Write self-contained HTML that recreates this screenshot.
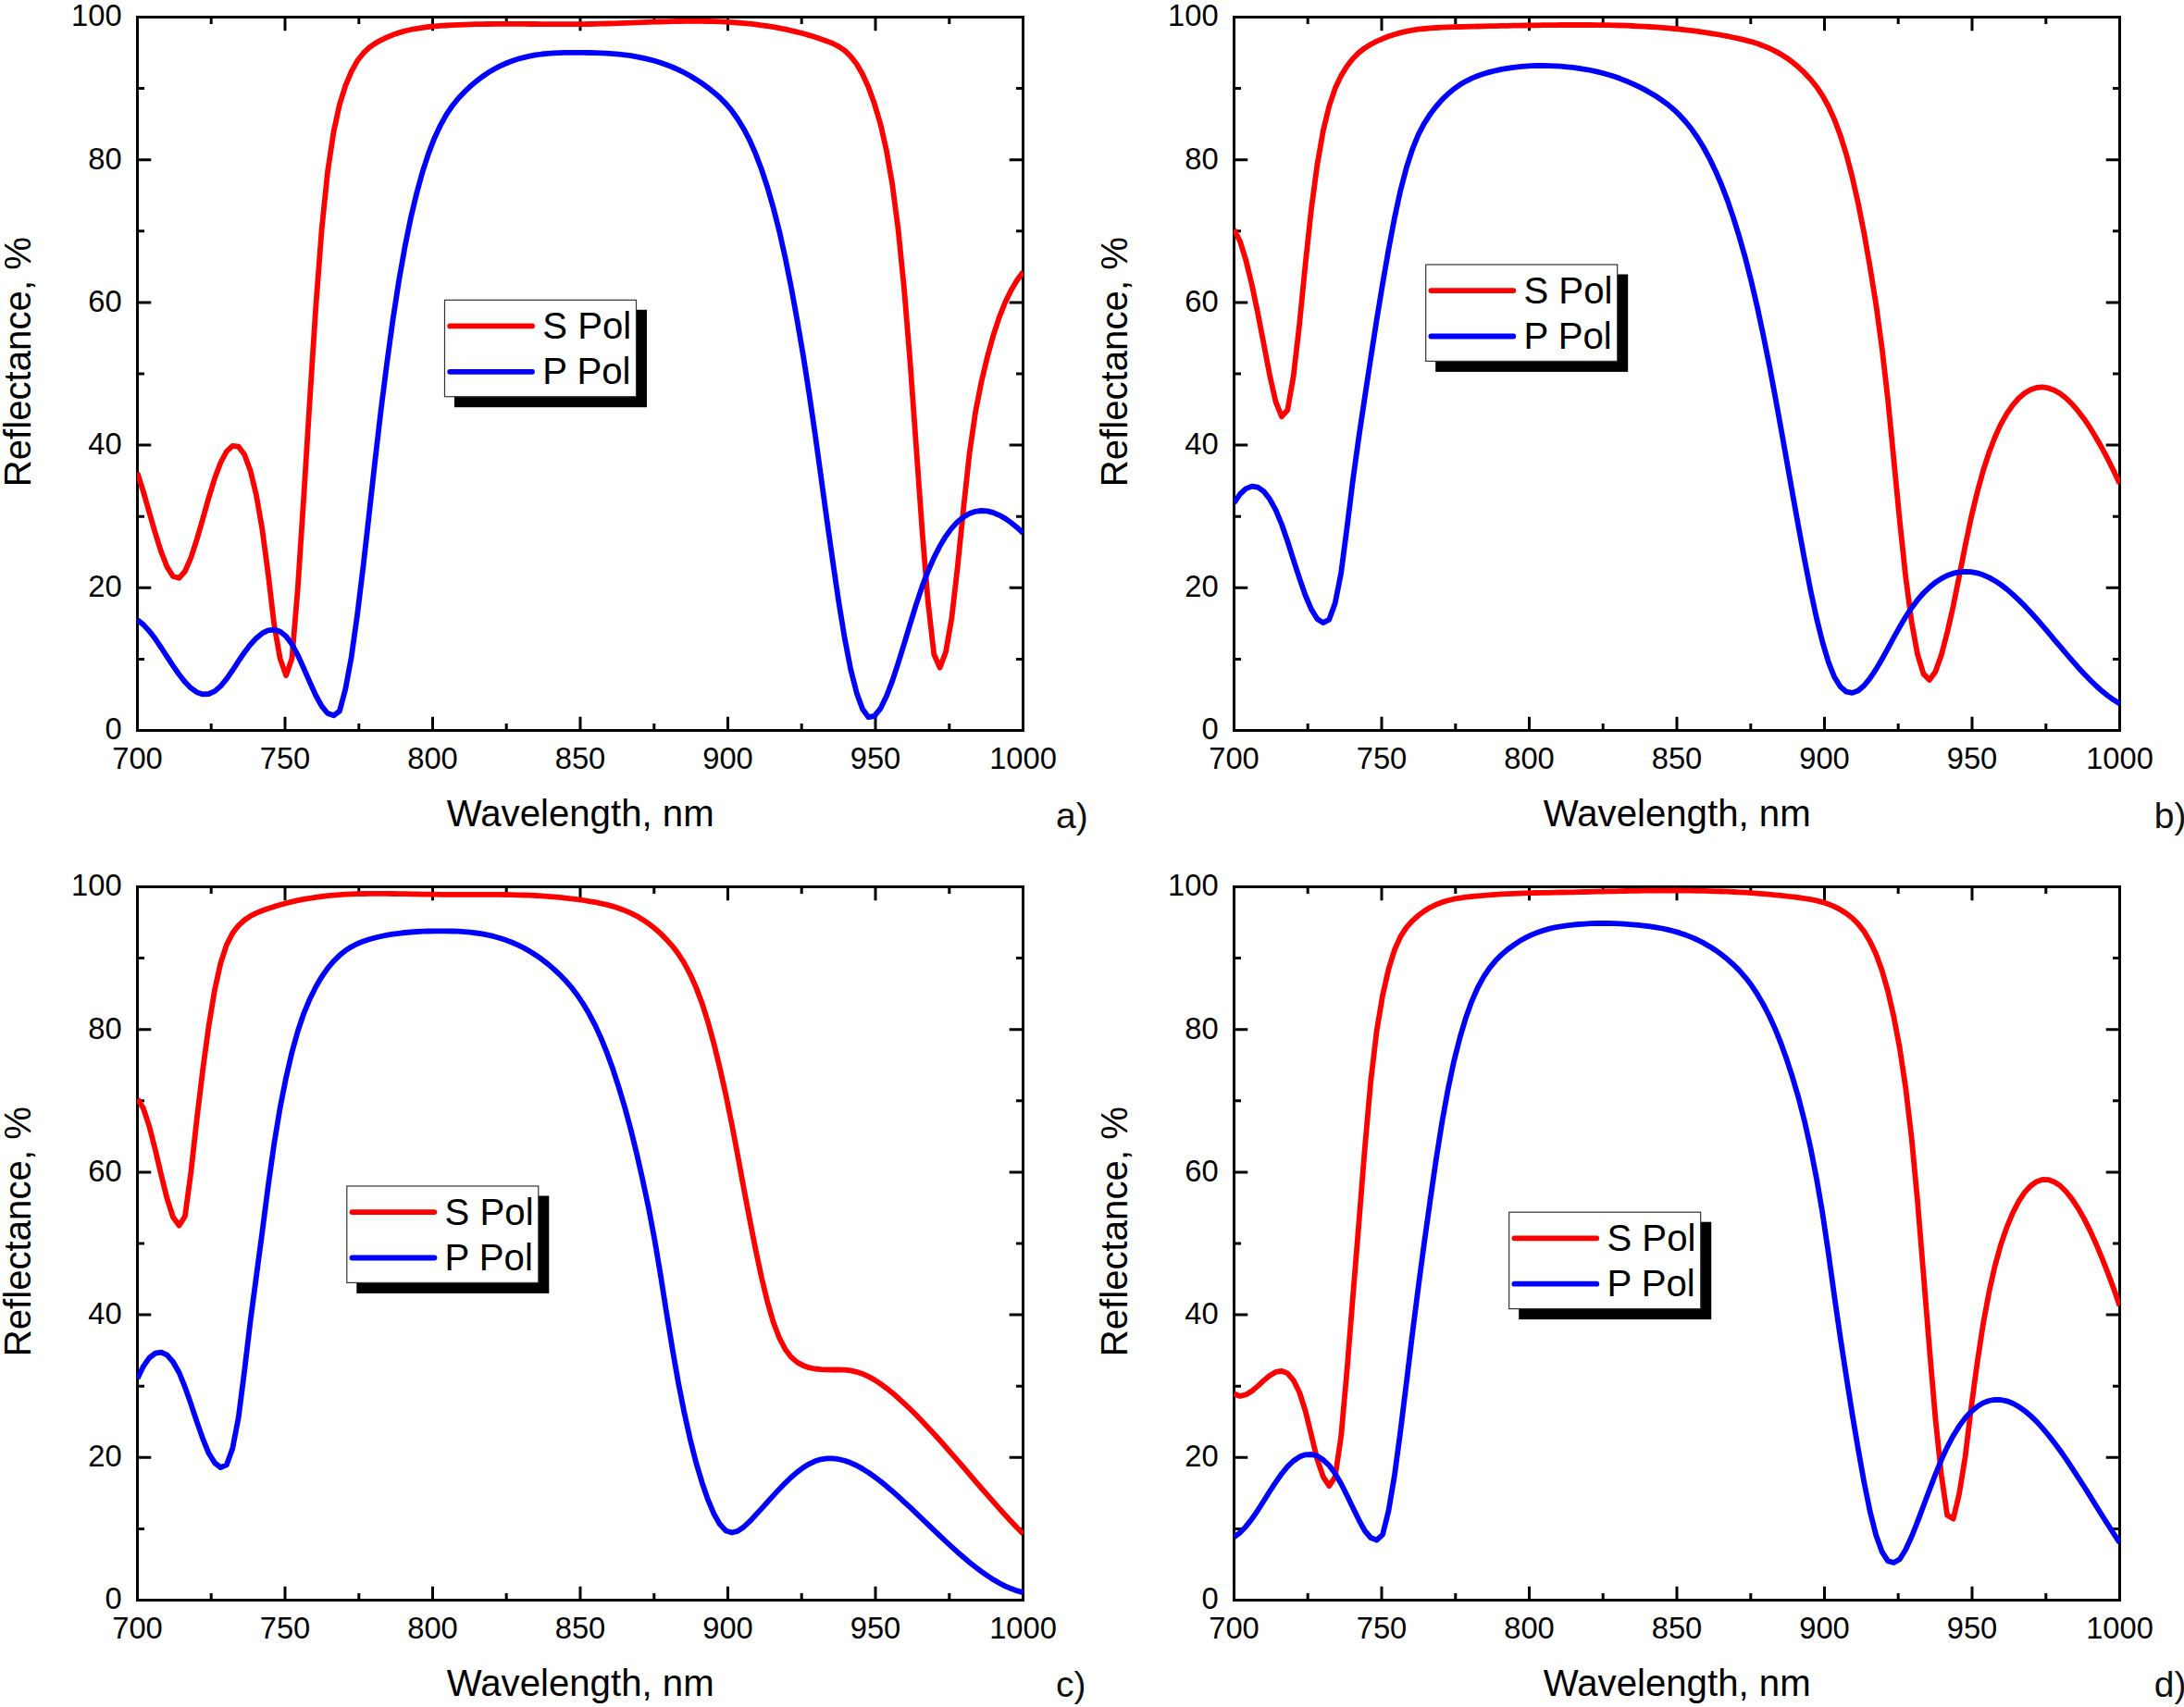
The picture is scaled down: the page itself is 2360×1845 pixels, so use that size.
<!DOCTYPE html>
<html lang="en"><head><meta charset="utf-8"><title>Reflectance vs wavelength for S and P polarization</title>
<style>html,body{margin:0;padding:0;background:#fff}body{width:2360px;height:1845px;overflow:hidden}svg{display:block}text{font-family:"Liberation Sans",sans-serif;fill:#000}.t{font-size:32.7px}.a{font-size:40.2px}.pl{font-size:39px;fill:#111}.ax{stroke:#000;stroke-width:3.0;fill:none;stroke-linecap:butt}.s{stroke:#f00}.p{stroke:#00f}.c{fill:none;stroke-width:5.8;stroke-linejoin:round;stroke-linecap:butt}.l{stroke-width:5.8;stroke-linecap:round;fill:none}</style></head><body>
<svg width="2360" height="1845" viewBox="0 0 2360 1845">
<rect width="2360" height="1845" fill="#fff"/>
<defs>
<clipPath id="cpa"><rect x="148" y="18" width="958" height="772"/></clipPath>
<clipPath id="cpb"><rect x="1333" y="18" width="958" height="772"/></clipPath>
<clipPath id="cpc"><rect x="148" y="958" width="958" height="772"/></clipPath>
<clipPath id="cpd"><rect x="1333" y="958" width="958" height="772"/></clipPath>
</defs>
<g id="panel-a">
<path class="ax" d="M228.2 789.5 v-7.5 M228.2 18.5 v7.5 M308 789.5 v-14.8 M308 18.5 v14.8 M387.8 789.5 v-7.5 M387.8 18.5 v7.5 M467.5 789.5 v-14.8 M467.5 18.5 v14.8 M547.2 789.5 v-7.5 M547.2 18.5 v7.5 M627 789.5 v-14.8 M627 18.5 v14.8 M706.8 789.5 v-7.5 M706.8 18.5 v7.5 M786.5 789.5 v-14.8 M786.5 18.5 v14.8 M866.2 789.5 v-7.5 M866.2 18.5 v7.5 M946 789.5 v-14.8 M946 18.5 v14.8 M1025.8 789.5 v-7.5 M1025.8 18.5 v7.5 M148.5 712.4 h7.5 M1105.5 712.4 h-7.5 M148.5 635.3 h14.8 M1105.5 635.3 h-14.8 M148.5 558.2 h7.5 M1105.5 558.2 h-7.5 M148.5 481.1 h14.8 M1105.5 481.1 h-14.8 M148.5 404 h7.5 M1105.5 404 h-7.5 M148.5 326.9 h14.8 M1105.5 326.9 h-14.8 M148.5 249.8 h7.5 M1105.5 249.8 h-7.5 M148.5 172.7 h14.8 M1105.5 172.7 h-14.8 M148.5 95.6 h7.5 M1105.5 95.6 h-7.5"/>
<rect class="ax" x="148.5" y="18.5" width="957" height="771"/>
<g clip-path="url(#cpa)">
<path class="c s" d="M148.5 511.1 L154.9 531.4 L161.3 553.8 L167.8 576.2 L174.2 596.6 L180.6 612.9 L187 623 L193.5 624.8 L199.9 617.5 L206.3 602.8 L212.7 583.1 L219.2 560.6 L225.6 537.8 L232 517 L238.4 500 L244.8 488 L251.3 481.9 L257.7 482.7 L264.1 491.2 L270.5 508.4 L277 535.2 L283.4 572.3 L289.8 620.5 L296.2 674.8 L302.6 711.6 L309.1 730.1 L315.5 711.6 L321.9 634.4 L328.3 536.1 L334.8 431.8 L341.2 332.7 L347.6 248.4 L354 186 L360.5 142.6 L366.9 113.1 L373.3 92.6 L379.7 77.3 L386.1 65.8 L392.6 57.4 L399 51.4 L405.4 46.9 L411.8 43.3 L418.3 40.2 L424.7 37.6 L431.1 35.4 L437.5 33.5 L443.9 32 L450.4 30.8 L456.8 29.8 L463.2 29 L469.6 28.4 L476.1 27.9 L482.5 27.5 L488.9 27.1 L495.3 26.8 L501.8 26.6 L508.2 26.4 L514.6 26.2 L521 26.1 L527.4 26 L533.9 25.9 L540.3 25.9 L546.7 25.9 L553.1 25.9 L559.6 25.9 L566 25.9 L572.4 26 L578.8 26 L585.3 26.1 L591.7 26.1 L598.1 26.1 L604.5 26.2 L610.9 26.2 L617.4 26.2 L623.8 26.1 L630.2 26.1 L636.6 26 L643.1 25.9 L649.5 25.7 L655.9 25.5 L662.3 25.3 L668.7 25.1 L675.2 24.9 L681.6 24.6 L688 24.4 L694.4 24.1 L700.9 23.9 L707.3 23.7 L713.7 23.5 L720.1 23.3 L726.6 23.1 L733 23 L739.4 22.9 L745.8 22.9 L752.2 22.8 L758.7 22.9 L765.1 23 L771.5 23.2 L777.9 23.4 L784.4 23.7 L790.8 24.1 L797.2 24.5 L803.6 25.1 L810.1 25.7 L816.5 26.4 L822.9 27.3 L829.3 28.2 L835.7 29.2 L842.2 30.4 L848.6 31.7 L855 33.1 L861.4 34.6 L867.9 36.3 L874.3 38.1 L880.7 40.1 L887.1 42.2 L893.5 44.4 L900 47 L906.4 50.3 L912.8 54.7 L919.2 60.9 L925.7 69.2 L932.1 80.2 L938.5 94.4 L944.9 112.1 L951.4 134 L957.8 162.1 L964.2 199.1 L970.6 248.1 L977 311.9 L983.5 391.6 L989.9 480.9 L996.3 570.9 L1002.7 649.7 L1009.2 707 L1015.6 721.7 L1022 704.7 L1028.4 668 L1034.8 612.1 L1041.3 548.1 L1047.7 489.1 L1054.1 445.3 L1060.5 412.6 L1067 385.4 L1073.4 362.3 L1079.8 342.9 L1086.2 326.8 L1092.7 313.5 L1099.1 302.7 L1105.5 293.9"/>
<path class="c p" d="M148.5 670.1 L154.9 675.1 L161.3 682.1 L167.8 690.6 L174.2 700 L180.6 709.9 L187 719.7 L193.5 729 L199.9 737.1 L206.3 743.7 L212.7 748.2 L219.2 750.4 L225.6 750 L232 747.1 L238.4 741.6 L244.8 733.8 L251.3 724.5 L257.7 714.7 L264.1 705.2 L270.5 696.7 L277 689.7 L283.4 684.4 L289.8 681.3 L296.2 680.6 L302.6 682.6 L309.1 687.8 L315.5 696.3 L321.9 708.3 L328.3 722.5 L334.8 737.4 L341.2 751.5 L347.6 763.2 L354 771 L360.5 773.3 L366.9 768.7 L373.3 744.8 L379.7 710.2 L386.1 664.5 L392.6 611.4 L399 554.6 L405.4 497.1 L411.8 442 L418.3 391 L424.7 344.5 L431.1 303.1 L437.5 266.9 L443.9 235.4 L450.4 208.3 L456.8 185.1 L463.2 165.4 L469.6 148.9 L476.1 135.1 L482.5 123.7 L488.9 114.2 L495.3 106.2 L501.8 99.4 L508.2 93.3 L514.6 87.9 L521 83 L527.4 78.6 L533.9 74.8 L540.3 71.4 L546.7 68.5 L553.1 66 L559.6 63.8 L566 62.1 L572.4 60.6 L578.8 59.4 L585.3 58.5 L591.7 57.9 L598.1 57.4 L604.5 57.1 L610.9 56.9 L617.4 56.8 L623.8 56.8 L630.2 56.9 L636.6 57 L643.1 57.1 L649.5 57.3 L655.9 57.7 L662.3 58.1 L668.7 58.7 L675.2 59.4 L681.6 60.2 L688 61.3 L694.4 62.6 L700.9 64.1 L707.3 65.8 L713.7 67.7 L720.1 70 L726.6 72.5 L733 75.4 L739.4 78.5 L745.8 82 L752.2 85.9 L758.7 90.2 L765.1 94.8 L771.5 99.9 L777.9 105.5 L784.4 112.1 L790.8 119.7 L797.2 128.7 L803.6 139.2 L810.1 151.7 L816.5 166.2 L822.9 183 L829.3 202.5 L835.7 224.8 L842.2 250.2 L848.6 278.9 L855 310.8 L861.4 345.9 L867.9 384 L874.3 425 L880.7 468.7 L887.1 514.8 L893.5 561.7 L900 607.7 L906.4 651.1 L912.8 690.1 L919.2 723.2 L925.7 748.9 L932.1 766.5 L938.5 775.2 L944.9 773.8 L951.4 765.8 L957.8 752.8 L964.2 736.1 L970.6 716.7 L977 695.8 L983.5 674.4 L989.9 653.6 L996.3 634.4 L1002.7 617.5 L1009.2 602.8 L1015.6 590.2 L1022 579.6 L1028.4 570.9 L1034.8 563.9 L1041.3 558.7 L1047.7 555 L1054.1 552.8 L1060.5 552 L1067 552.4 L1073.4 554.1 L1079.8 556.8 L1086.2 560.4 L1092.7 565 L1099.1 570.2 L1105.5 576.2"/>
</g>
<text class="t" x="148.5" y="831.3" text-anchor="middle">700</text>
<text class="t" x="308" y="831.3" text-anchor="middle">750</text>
<text class="t" x="467.5" y="831.3" text-anchor="middle">800</text>
<text class="t" x="627" y="831.3" text-anchor="middle">850</text>
<text class="t" x="786.5" y="831.3" text-anchor="middle">900</text>
<text class="t" x="946" y="831.3" text-anchor="middle">950</text>
<text class="t" x="1105.5" y="831.3" text-anchor="middle">1000</text>
<text class="t" x="131.6" y="799.3" text-anchor="end">0</text>
<text class="t" x="131.6" y="645.1" text-anchor="end">20</text>
<text class="t" x="131.6" y="490.9" text-anchor="end">40</text>
<text class="t" x="131.6" y="336.7" text-anchor="end">60</text>
<text class="t" x="131.6" y="182.5" text-anchor="end">80</text>
<text class="t" x="131.6" y="28.3" text-anchor="end">100</text>
<text class="a" x="627.2" y="893.2" text-anchor="middle">Wavelength, nm</text>
<text class="a" transform="translate(33.4 391.2) rotate(-90)" text-anchor="middle">Reflectance, %</text>
<rect x="491" y="334.8" width="208" height="105.4" fill="#000"/>
<rect x="480.5" y="324.3" width="207" height="104.4" fill="#fff" stroke="#333" stroke-width="1.2"/>
<path class="l s" d="M486.2 352.4 h88.9"/>
<path class="l p" d="M486.2 401.8 h88.9"/>
<text class="a" x="586.2" y="365.9">S Pol</text>
<text class="a" x="586.2" y="415.3">P Pol</text>
<text class="pl" x="1141" y="895.4">a)</text>
</g>
<g id="panel-b">
<path class="ax" d="M1413.2 789.5 v-7.5 M1413.2 18.5 v7.5 M1493 789.5 v-14.8 M1493 18.5 v14.8 M1572.8 789.5 v-7.5 M1572.8 18.5 v7.5 M1652.5 789.5 v-14.8 M1652.5 18.5 v14.8 M1732.2 789.5 v-7.5 M1732.2 18.5 v7.5 M1812 789.5 v-14.8 M1812 18.5 v14.8 M1891.8 789.5 v-7.5 M1891.8 18.5 v7.5 M1971.5 789.5 v-14.8 M1971.5 18.5 v14.8 M2051.2 789.5 v-7.5 M2051.2 18.5 v7.5 M2131 789.5 v-14.8 M2131 18.5 v14.8 M2210.8 789.5 v-7.5 M2210.8 18.5 v7.5 M1333.5 712.4 h7.5 M2290.5 712.4 h-7.5 M1333.5 635.3 h14.8 M2290.5 635.3 h-14.8 M1333.5 558.2 h7.5 M2290.5 558.2 h-7.5 M1333.5 481.1 h14.8 M2290.5 481.1 h-14.8 M1333.5 404 h7.5 M2290.5 404 h-7.5 M1333.5 326.9 h14.8 M2290.5 326.9 h-14.8 M1333.5 249.8 h7.5 M2290.5 249.8 h-7.5 M1333.5 172.7 h14.8 M2290.5 172.7 h-14.8 M1333.5 95.6 h7.5 M2290.5 95.6 h-7.5"/>
<rect class="ax" x="1333.5" y="18.5" width="957" height="771"/>
<g clip-path="url(#cpb)">
<path class="c s" d="M1333.5 248 L1339.9 260.7 L1346.3 281.2 L1352.8 307.9 L1359.2 338.7 L1365.6 371.7 L1372 405.3 L1378.5 434.1 L1384.9 450.3 L1391.3 443.3 L1397.7 406.5 L1404.2 350.1 L1410.6 285.3 L1417 225.8 L1423.4 178 L1429.8 141.3 L1436.3 114.6 L1442.7 95.6 L1449.1 82 L1455.5 71.5 L1462 63.2 L1468.4 56.9 L1474.8 51.9 L1481.2 48 L1487.6 44.7 L1494.1 41.8 L1500.5 39.3 L1506.9 37.2 L1513.3 35.4 L1519.8 33.9 L1526.2 32.7 L1532.6 31.7 L1539 31 L1545.5 30.4 L1551.9 30 L1558.3 29.7 L1564.7 29.4 L1571.1 29.2 L1577.6 29 L1584 28.8 L1590.4 28.7 L1596.8 28.5 L1603.3 28.4 L1609.7 28.2 L1616.1 28.1 L1622.5 27.9 L1628.9 27.8 L1635.4 27.7 L1641.8 27.6 L1648.2 27.5 L1654.6 27.4 L1661.1 27.3 L1667.5 27.2 L1673.9 27.1 L1680.3 27.1 L1686.8 27 L1693.2 27 L1699.6 27 L1706 27 L1712.4 27 L1718.9 27 L1725.3 27.1 L1731.7 27.1 L1738.1 27.2 L1744.6 27.4 L1751 27.5 L1757.4 27.7 L1763.8 28 L1770.3 28.3 L1776.7 28.6 L1783.1 29 L1789.5 29.4 L1795.9 29.9 L1802.4 30.4 L1808.8 31 L1815.2 31.6 L1821.6 32.3 L1828.1 33.1 L1834.5 33.9 L1840.9 34.8 L1847.3 35.8 L1853.7 36.9 L1860.2 38 L1866.6 39.2 L1873 40.5 L1879.4 41.9 L1885.9 43.4 L1892.3 45.1 L1898.7 47.1 L1905.1 49.4 L1911.6 52 L1918 55.1 L1924.4 58.6 L1930.8 62.7 L1937.2 67.4 L1943.7 72.8 L1950.1 78.9 L1956.5 85.7 L1962.9 93.7 L1969.4 103.3 L1975.8 115 L1982.2 129.1 L1988.6 146.2 L1995.1 166.8 L2001.5 191.3 L2007.9 219.7 L2014.3 252.1 L2020.7 288.5 L2027.2 329 L2033.6 375.8 L2040 431.7 L2046.4 496.8 L2052.9 563.9 L2059.3 624.2 L2065.7 672.4 L2072.1 707.4 L2078.5 728.4 L2085 734.9 L2091.4 726 L2097.8 708.1 L2104.2 683.5 L2110.7 654.8 L2117.1 622.9 L2123.5 590.4 L2129.9 559.8 L2136.4 532.8 L2142.8 509.5 L2149.2 489.5 L2155.6 472.7 L2162 458.6 L2168.5 447.1 L2174.9 437.8 L2181.3 430.5 L2187.7 425 L2194.2 421.2 L2200.6 419 L2207 418.4 L2213.4 419.4 L2219.8 421.7 L2226.3 425.5 L2232.7 430.5 L2239.1 436.8 L2245.5 444.2 L2252 452.7 L2258.4 462.2 L2264.8 472.7 L2271.2 484 L2277.7 496.2 L2284.1 509.1 L2290.5 522.6"/>
<path class="c p" d="M1333.5 543.7 L1339.9 534.2 L1346.3 528.1 L1352.8 525.6 L1359.2 526.6 L1365.6 531.1 L1372 539.3 L1378.5 551.1 L1384.9 566.5 L1391.3 585 L1397.7 605.1 L1404.2 625.1 L1410.6 643.5 L1417 658.6 L1423.4 669 L1429.8 673.1 L1436.3 669.6 L1442.7 652 L1449.1 619.6 L1455.5 570.7 L1462 518.3 L1468.4 472 L1474.8 429.2 L1481.2 387.1 L1487.6 345.9 L1494.1 306.4 L1500.5 269.4 L1506.9 235.7 L1513.3 206 L1519.8 181.2 L1526.2 161.3 L1532.6 145.7 L1539 133.3 L1545.5 123.3 L1551.9 115 L1558.3 107.7 L1564.7 101.5 L1571.1 96.1 L1577.6 91.6 L1584 87.8 L1590.4 84.6 L1596.8 82 L1603.3 79.8 L1609.7 77.9 L1616.1 76.3 L1622.5 74.9 L1628.9 73.8 L1635.4 72.8 L1641.8 72.1 L1648.2 71.6 L1654.6 71.2 L1661.1 71 L1667.5 71 L1673.9 71.1 L1680.3 71.4 L1686.8 71.7 L1693.2 72.3 L1699.6 72.9 L1706 73.8 L1712.4 74.8 L1718.9 76 L1725.3 77.4 L1731.7 79 L1738.1 80.8 L1744.6 82.8 L1751 85.1 L1757.4 87.6 L1763.8 90.3 L1770.3 93.4 L1776.7 96.6 L1783.1 100.2 L1789.5 104 L1795.9 108.3 L1802.4 113.1 L1808.8 118.5 L1815.2 124.7 L1821.6 131.7 L1828.1 139.8 L1834.5 149 L1840.9 159.5 L1847.3 171.3 L1853.7 184.7 L1860.2 199.7 L1866.6 216.4 L1873 235.1 L1879.4 255.7 L1885.9 278.5 L1892.3 303.6 L1898.7 331 L1905.1 361 L1911.6 393.2 L1918 427.3 L1924.4 462.6 L1930.8 498.6 L1937.2 534.8 L1943.7 570.7 L1950.1 605.5 L1956.5 638.2 L1962.9 668 L1969.4 694.1 L1975.8 715.6 L1982.2 731.7 L1988.6 742.1 L1995.1 747.7 L2001.5 748.9 L2007.9 746.5 L2014.3 741 L2020.7 733.1 L2027.2 723.4 L2033.6 712.5 L2040 700.9 L2046.4 689 L2052.9 677.4 L2059.3 666.5 L2065.7 656.9 L2072.1 648.4 L2078.5 641 L2085 634.8 L2091.4 629.5 L2097.8 625.3 L2104.2 622 L2110.7 619.7 L2117.1 618.3 L2123.5 617.8 L2129.9 618.1 L2136.4 619.3 L2142.8 621.3 L2149.2 624.1 L2155.6 627.7 L2162 631.9 L2168.5 636.9 L2174.9 642.4 L2181.3 648.4 L2187.7 654.8 L2194.2 661.7 L2200.6 668.8 L2207 676.2 L2213.4 683.7 L2219.8 691.3 L2226.3 698.9 L2232.7 706.5 L2239.1 713.9 L2245.5 721.2 L2252 728.2 L2258.4 734.8 L2264.8 741 L2271.2 746.8 L2277.7 752 L2284.1 756.6 L2290.5 760.5"/>
</g>
<text class="t" x="1333.5" y="831.3" text-anchor="middle">700</text>
<text class="t" x="1493" y="831.3" text-anchor="middle">750</text>
<text class="t" x="1652.5" y="831.3" text-anchor="middle">800</text>
<text class="t" x="1812" y="831.3" text-anchor="middle">850</text>
<text class="t" x="1971.5" y="831.3" text-anchor="middle">900</text>
<text class="t" x="2131" y="831.3" text-anchor="middle">950</text>
<text class="t" x="2290.5" y="831.3" text-anchor="middle">1000</text>
<text class="t" x="1316.6" y="799.3" text-anchor="end">0</text>
<text class="t" x="1316.6" y="645.1" text-anchor="end">20</text>
<text class="t" x="1316.6" y="490.9" text-anchor="end">40</text>
<text class="t" x="1316.6" y="336.7" text-anchor="end">60</text>
<text class="t" x="1316.6" y="182.5" text-anchor="end">80</text>
<text class="t" x="1316.6" y="28.3" text-anchor="end">100</text>
<text class="a" x="1812.2" y="893.2" text-anchor="middle">Wavelength, nm</text>
<text class="a" transform="translate(1218.4 391.2) rotate(-90)" text-anchor="middle">Reflectance, %</text>
<rect x="1551.2" y="296.5" width="208" height="105.4" fill="#000"/>
<rect x="1540.7" y="286" width="207" height="104.4" fill="#fff" stroke="#333" stroke-width="1.2"/>
<path class="l s" d="M1546.4 314.1 h88.9"/>
<path class="l p" d="M1546.4 363.5 h88.9"/>
<text class="a" x="1646.4" y="327.6">S Pol</text>
<text class="a" x="1646.4" y="377">P Pol</text>
<text class="pl" x="2327.7" y="895.3">b)</text>
</g>
<g id="panel-c">
<path class="ax" d="M228.2 1729.5 v-7.5 M228.2 958.5 v7.5 M308 1729.5 v-14.8 M308 958.5 v14.8 M387.8 1729.5 v-7.5 M387.8 958.5 v7.5 M467.5 1729.5 v-14.8 M467.5 958.5 v14.8 M547.2 1729.5 v-7.5 M547.2 958.5 v7.5 M627 1729.5 v-14.8 M627 958.5 v14.8 M706.8 1729.5 v-7.5 M706.8 958.5 v7.5 M786.5 1729.5 v-14.8 M786.5 958.5 v14.8 M866.2 1729.5 v-7.5 M866.2 958.5 v7.5 M946 1729.5 v-14.8 M946 958.5 v14.8 M1025.8 1729.5 v-7.5 M1025.8 958.5 v7.5 M148.5 1652.4 h7.5 M1105.5 1652.4 h-7.5 M148.5 1575.3 h14.8 M1105.5 1575.3 h-14.8 M148.5 1498.2 h7.5 M1105.5 1498.2 h-7.5 M148.5 1421.1 h14.8 M1105.5 1421.1 h-14.8 M148.5 1344 h7.5 M1105.5 1344 h-7.5 M148.5 1266.9 h14.8 M1105.5 1266.9 h-14.8 M148.5 1189.8 h7.5 M1105.5 1189.8 h-7.5 M148.5 1112.7 h14.8 M1105.5 1112.7 h-14.8 M148.5 1035.6 h7.5 M1105.5 1035.6 h-7.5"/>
<rect class="ax" x="148.5" y="958.5" width="957" height="771"/>
<g clip-path="url(#cpc)">
<path class="c s" d="M148.5 1187.7 L154.9 1197.9 L161.3 1217.4 L167.8 1242.7 L174.2 1270 L180.6 1295.7 L187 1315.5 L193.5 1324.7 L199.9 1314.7 L206.3 1267.4 L212.7 1209.6 L219.2 1155.9 L225.6 1108.7 L232 1069.9 L238.4 1041 L244.8 1021.4 L251.3 1008.6 L257.7 1000.4 L264.1 994.5 L270.5 990.1 L277 986.9 L283.4 984.3 L289.8 982 L296.2 979.9 L302.6 978 L309.1 976.2 L315.5 974.6 L321.9 973.2 L328.3 971.9 L334.8 970.8 L341.2 969.8 L347.6 969 L354 968.2 L360.5 967.6 L366.9 967.1 L373.3 966.7 L379.7 966.4 L386.1 966.1 L392.6 966 L399 965.9 L405.4 965.8 L411.8 965.8 L418.3 965.9 L424.7 966 L431.1 966.1 L437.5 966.2 L443.9 966.3 L450.4 966.4 L456.8 966.6 L463.2 966.7 L469.6 966.7 L476.1 966.8 L482.5 966.8 L488.9 966.8 L495.3 966.8 L501.8 966.8 L508.2 966.8 L514.6 966.8 L521 966.8 L527.4 966.8 L533.9 966.9 L540.3 966.9 L546.7 967 L553.1 967.1 L559.6 967.3 L566 967.5 L572.4 967.7 L578.8 968 L585.3 968.4 L591.7 968.8 L598.1 969.3 L604.5 969.9 L610.9 970.6 L617.4 971.3 L623.8 972.1 L630.2 973 L636.6 974.1 L643.1 975.2 L649.5 976.5 L655.9 977.9 L662.3 979.6 L668.7 981.7 L675.2 984.1 L681.6 986.9 L688 990.1 L694.4 993.9 L700.9 998.3 L707.3 1003.3 L713.7 1008.9 L720.1 1015.4 L726.6 1022.6 L733 1031 L739.4 1041 L745.8 1053 L752.2 1067.4 L758.7 1084.6 L765.1 1104.9 L771.5 1128.3 L777.9 1154.5 L784.4 1183.6 L790.8 1215.3 L797.2 1249 L803.6 1283.7 L810.1 1317.9 L816.5 1350.5 L822.9 1380.6 L829.3 1407.1 L835.7 1429.2 L842.2 1446.2 L848.6 1458.5 L855 1466.9 L861.4 1472.4 L867.9 1475.9 L874.3 1478.2 L880.7 1479.5 L887.1 1480.2 L893.5 1480.4 L900 1480.5 L906.4 1480.5 L912.8 1480.7 L919.2 1481.4 L925.7 1482.8 L932.1 1484.9 L938.5 1487.8 L944.9 1491.4 L951.4 1495.6 L957.8 1500.3 L964.2 1505.4 L970.6 1511 L977 1516.8 L983.5 1523 L989.9 1529.3 L996.3 1535.9 L1002.7 1542.7 L1009.2 1549.7 L1015.6 1556.8 L1022 1564 L1028.4 1571.3 L1034.8 1578.7 L1041.3 1586.1 L1047.7 1593.6 L1054.1 1601.1 L1060.5 1608.5 L1067 1615.9 L1073.4 1623.2 L1079.8 1630.4 L1086.2 1637.5 L1092.7 1644.5 L1099.1 1651.2 L1105.5 1657.8"/>
<path class="c p" d="M148.5 1489.9 L154.9 1476.8 L161.3 1467.6 L167.8 1462.6 L174.2 1461.6 L180.6 1464.7 L187 1472 L193.5 1483.5 L199.9 1499.1 L206.3 1517.4 L212.7 1536.7 L219.2 1555.1 L225.6 1570.8 L232 1581.1 L238.4 1586.1 L244.8 1583.4 L251.3 1565.5 L257.7 1532.3 L264.1 1482.1 L270.5 1428.3 L277 1379.5 L283.4 1331.3 L289.8 1281.6 L296.2 1236.4 L302.6 1197.6 L309.1 1164.8 L315.5 1137.2 L321.9 1114.2 L328.3 1095.3 L334.8 1079.7 L341.2 1066.7 L347.6 1055.8 L354 1046.6 L360.5 1038.9 L366.9 1032.6 L373.3 1027.4 L379.7 1023.3 L386.1 1020 L392.6 1017.4 L399 1015.3 L405.4 1013.5 L411.8 1012 L418.3 1010.7 L424.7 1009.7 L431.1 1008.8 L437.5 1008 L443.9 1007.5 L450.4 1007 L456.8 1006.7 L463.2 1006.5 L469.6 1006.4 L476.1 1006.3 L482.5 1006.3 L488.9 1006.5 L495.3 1006.7 L501.8 1007.1 L508.2 1007.7 L514.6 1008.5 L521 1009.4 L527.4 1010.7 L533.9 1012.2 L540.3 1014 L546.7 1016.1 L553.1 1018.5 L559.6 1021.3 L566 1024.5 L572.4 1028.1 L578.8 1032.2 L585.3 1036.7 L591.7 1041.6 L598.1 1047.1 L604.5 1053.1 L610.9 1059.7 L617.4 1067.1 L623.8 1075.5 L630.2 1085 L636.6 1095.8 L643.1 1108.1 L649.5 1122.1 L655.9 1137.9 L662.3 1155.6 L668.7 1175.3 L675.2 1197 L681.6 1220.8 L688 1246.8 L694.4 1275 L700.9 1305.7 L707.3 1339.5 L713.7 1377.4 L720.1 1418.1 L726.6 1458 L733 1494.4 L739.4 1526.9 L745.8 1555.7 L752.2 1580.9 L758.7 1602.7 L765.1 1621.2 L771.5 1636.3 L777.9 1647.6 L784.4 1654.4 L790.8 1656.5 L797.2 1654.9 L803.6 1650.5 L810.1 1644.4 L816.5 1637.6 L822.9 1630.6 L829.3 1623.5 L835.7 1616.4 L842.2 1609.4 L848.6 1602.8 L855 1596.7 L861.4 1591.1 L867.9 1586.2 L874.3 1582.3 L880.7 1579.3 L887.1 1577.3 L893.5 1576.4 L900 1576.4 L906.4 1577.2 L912.8 1578.8 L919.2 1581.1 L925.7 1584 L932.1 1587.6 L938.5 1591.6 L944.9 1596.2 L951.4 1601 L957.8 1606.3 L964.2 1611.7 L970.6 1617.4 L977 1623.3 L983.5 1629.2 L989.9 1635.3 L996.3 1641.5 L1002.7 1647.6 L1009.2 1653.8 L1015.6 1659.9 L1022 1666 L1028.4 1671.9 L1034.8 1677.7 L1041.3 1683.3 L1047.7 1688.7 L1054.1 1693.8 L1060.5 1698.6 L1067 1703.1 L1073.4 1707.3 L1079.8 1711 L1086.2 1714.3 L1092.7 1717.1 L1099.1 1719.4 L1105.5 1721.2"/>
</g>
<text class="t" x="148.5" y="1771.3" text-anchor="middle">700</text>
<text class="t" x="308" y="1771.3" text-anchor="middle">750</text>
<text class="t" x="467.5" y="1771.3" text-anchor="middle">800</text>
<text class="t" x="627" y="1771.3" text-anchor="middle">850</text>
<text class="t" x="786.5" y="1771.3" text-anchor="middle">900</text>
<text class="t" x="946" y="1771.3" text-anchor="middle">950</text>
<text class="t" x="1105.5" y="1771.3" text-anchor="middle">1000</text>
<text class="t" x="131.6" y="1739.3" text-anchor="end">0</text>
<text class="t" x="131.6" y="1585.1" text-anchor="end">20</text>
<text class="t" x="131.6" y="1430.9" text-anchor="end">40</text>
<text class="t" x="131.6" y="1276.7" text-anchor="end">60</text>
<text class="t" x="131.6" y="1122.5" text-anchor="end">80</text>
<text class="t" x="131.6" y="968.3" text-anchor="end">100</text>
<text class="a" x="627.2" y="1833.2" text-anchor="middle">Wavelength, nm</text>
<text class="a" transform="translate(33.4 1331.2) rotate(-90)" text-anchor="middle">Reflectance, %</text>
<rect x="385.3" y="1292.5" width="208" height="105.4" fill="#000"/>
<rect x="374.8" y="1282" width="207" height="104.4" fill="#fff" stroke="#333" stroke-width="1.2"/>
<path class="l s" d="M380.5 1310.1 h88.9"/>
<path class="l p" d="M380.5 1359.5 h88.9"/>
<text class="a" x="480.5" y="1323.6">S Pol</text>
<text class="a" x="480.5" y="1373">P Pol</text>
<text class="pl" x="1141" y="1834.1">c)</text>
</g>
<g id="panel-d">
<path class="ax" d="M1413.2 1729.5 v-7.5 M1413.2 958.5 v7.5 M1493 1729.5 v-14.8 M1493 958.5 v14.8 M1572.8 1729.5 v-7.5 M1572.8 958.5 v7.5 M1652.5 1729.5 v-14.8 M1652.5 958.5 v14.8 M1732.2 1729.5 v-7.5 M1732.2 958.5 v7.5 M1812 1729.5 v-14.8 M1812 958.5 v14.8 M1891.8 1729.5 v-7.5 M1891.8 958.5 v7.5 M1971.5 1729.5 v-14.8 M1971.5 958.5 v14.8 M2051.2 1729.5 v-7.5 M2051.2 958.5 v7.5 M2131 1729.5 v-14.8 M2131 958.5 v14.8 M2210.8 1729.5 v-7.5 M2210.8 958.5 v7.5 M1333.5 1652.4 h7.5 M2290.5 1652.4 h-7.5 M1333.5 1575.3 h14.8 M2290.5 1575.3 h-14.8 M1333.5 1498.2 h7.5 M2290.5 1498.2 h-7.5 M1333.5 1421.1 h14.8 M2290.5 1421.1 h-14.8 M1333.5 1344 h7.5 M2290.5 1344 h-7.5 M1333.5 1266.9 h14.8 M2290.5 1266.9 h-14.8 M1333.5 1189.8 h7.5 M2290.5 1189.8 h-7.5 M1333.5 1112.7 h14.8 M2290.5 1112.7 h-14.8 M1333.5 1035.6 h7.5 M2290.5 1035.6 h-7.5"/>
<rect class="ax" x="1333.5" y="958.5" width="957" height="771"/>
<g clip-path="url(#cpd)">
<path class="c s" d="M1333.5 1506.6 L1339.9 1508.9 L1346.3 1507.5 L1352.8 1503.5 L1359.2 1498.1 L1365.6 1492.1 L1372 1486.7 L1378.5 1482.9 L1384.9 1481.8 L1391.3 1484.4 L1397.7 1491.8 L1404.2 1505 L1410.6 1525 L1417 1551 L1423.4 1577.4 L1429.8 1596.1 L1436.3 1606.1 L1442.7 1596.1 L1449.1 1552.9 L1455.5 1481.8 L1462 1400.4 L1468.4 1321.7 L1474.8 1241.3 L1481.2 1168.8 L1487.6 1114.6 L1494.1 1075.6 L1500.5 1047.3 L1506.9 1026.8 L1513.3 1012.4 L1519.8 1002.4 L1526.2 995.3 L1532.6 989.5 L1539 984.7 L1545.5 980.8 L1551.9 977.7 L1558.3 975.1 L1564.7 973.2 L1571.1 971.7 L1577.6 970.6 L1584 969.7 L1590.4 969 L1596.8 968.3 L1603.3 967.8 L1609.7 967.3 L1616.1 966.8 L1622.5 966.4 L1628.9 966.1 L1635.4 965.8 L1641.8 965.6 L1648.2 965.4 L1654.6 965.2 L1661.1 965 L1667.5 964.9 L1673.9 964.8 L1680.3 964.6 L1686.8 964.5 L1693.2 964.4 L1699.6 964.3 L1706 964.1 L1712.4 964 L1718.9 963.9 L1725.3 963.7 L1731.7 963.6 L1738.1 963.4 L1744.6 963.3 L1751 963.2 L1757.4 963 L1763.8 962.9 L1770.3 962.8 L1776.7 962.7 L1783.1 962.7 L1789.5 962.6 L1795.9 962.6 L1802.4 962.6 L1808.8 962.5 L1815.2 962.6 L1821.6 962.6 L1828.1 962.7 L1834.5 962.8 L1840.9 962.9 L1847.3 963.1 L1853.7 963.3 L1860.2 963.5 L1866.6 963.7 L1873 964 L1879.4 964.4 L1885.9 964.7 L1892.3 965.1 L1898.7 965.6 L1905.1 966.1 L1911.6 966.7 L1918 967.3 L1924.4 967.9 L1930.8 968.6 L1937.2 969.4 L1943.7 970.2 L1950.1 971.1 L1956.5 972.1 L1962.9 973.4 L1969.4 975.1 L1975.8 977.2 L1982.2 979.9 L1988.6 983.2 L1995.1 987.3 L2001.5 992.3 L2007.9 998.6 L2014.3 1006.8 L2020.7 1017.5 L2027.2 1031.3 L2033.6 1048.8 L2040 1071.1 L2046.4 1099 L2052.9 1133.4 L2059.3 1176.3 L2065.7 1230.5 L2072.1 1298.8 L2078.5 1377.4 L2085 1458.2 L2091.4 1533.2 L2097.8 1594.3 L2104.2 1637.8 L2110.7 1641.6 L2117.1 1614.6 L2123.5 1575.1 L2129.9 1522.6 L2136.4 1474.1 L2142.8 1432.1 L2149.2 1397.2 L2155.6 1368.7 L2162 1345.4 L2168.5 1326.5 L2174.9 1311.1 L2181.3 1298.6 L2187.7 1288.9 L2194.2 1281.8 L2200.6 1277.2 L2207 1275 L2213.4 1275.1 L2219.8 1277.4 L2226.3 1281.7 L2232.7 1288 L2239.1 1296.1 L2245.5 1305.8 L2252 1317.1 L2258.4 1329.9 L2264.8 1344 L2271.2 1359.3 L2277.7 1375.7 L2284.1 1393.1 L2290.5 1411.3"/>
<path class="c p" d="M1333.5 1661.3 L1339.9 1656.6 L1346.3 1649.9 L1352.8 1641.7 L1359.2 1632.3 L1365.6 1622.2 L1372 1612 L1378.5 1602.1 L1384.9 1593 L1391.3 1585.1 L1397.7 1579 L1404.2 1574.6 L1410.6 1572.3 L1417 1572 L1423.4 1573.8 L1429.8 1577.8 L1436.3 1584 L1442.7 1592.6 L1449.1 1603.5 L1455.5 1616.2 L1462 1629.7 L1468.4 1642.8 L1474.8 1654.5 L1481.2 1662 L1487.6 1664.7 L1494.1 1658.6 L1500.5 1632.7 L1506.9 1594.8 L1513.3 1547 L1519.8 1494.3 L1526.2 1441.6 L1532.6 1391.5 L1539 1343.4 L1545.5 1297 L1551.9 1252.9 L1558.3 1212.6 L1564.7 1177.3 L1571.1 1147 L1577.6 1121.4 L1584 1099.9 L1590.4 1082.1 L1596.8 1067.5 L1603.3 1055.6 L1609.7 1046.1 L1616.1 1038.3 L1622.5 1031.9 L1628.9 1026.4 L1635.4 1021.6 L1641.8 1017.3 L1648.2 1013.7 L1654.6 1010.6 L1661.1 1007.9 L1667.5 1005.7 L1673.9 1003.9 L1680.3 1002.4 L1686.8 1001.3 L1693.2 1000.3 L1699.6 999.6 L1706 999 L1712.4 998.6 L1718.9 998.2 L1725.3 998 L1731.7 998 L1738.1 998 L1744.6 998.2 L1751 998.4 L1757.4 998.8 L1763.8 999.3 L1770.3 999.9 L1776.7 1000.6 L1783.1 1001.4 L1789.5 1002.4 L1795.9 1003.5 L1802.4 1004.9 L1808.8 1006.5 L1815.2 1008.4 L1821.6 1010.6 L1828.1 1013.1 L1834.5 1016 L1840.9 1019.2 L1847.3 1022.9 L1853.7 1027 L1860.2 1031.7 L1866.6 1036.8 L1873 1042.5 L1879.4 1048.9 L1885.9 1056.3 L1892.3 1064.6 L1898.7 1074.2 L1905.1 1085.1 L1911.6 1097.5 L1918 1111.6 L1924.4 1127.4 L1930.8 1145.3 L1937.2 1165.2 L1943.7 1187.4 L1950.1 1212.4 L1956.5 1240.9 L1962.9 1273.6 L1969.4 1311.3 L1975.8 1354.6 L1982.2 1400.8 L1988.6 1445.4 L1995.1 1487.9 L2001.5 1528.2 L2007.9 1566.3 L2014.3 1601.9 L2020.7 1633.5 L2027.2 1659.2 L2033.6 1677.1 L2040 1687.1 L2046.4 1689 L2052.9 1685.2 L2059.3 1674.8 L2065.7 1660.8 L2072.1 1644.6 L2078.5 1627.4 L2085 1610.2 L2091.4 1593.5 L2097.8 1577.9 L2104.2 1563.9 L2110.7 1551.7 L2117.1 1541.4 L2123.5 1532.7 L2129.9 1525.8 L2136.4 1520.4 L2142.8 1516.4 L2149.2 1514 L2155.6 1512.8 L2162 1513 L2168.5 1514.3 L2174.9 1516.8 L2181.3 1520.3 L2187.7 1524.8 L2194.2 1530.2 L2200.6 1536.4 L2207 1543.4 L2213.4 1551 L2219.8 1559.3 L2226.3 1568 L2232.7 1577.2 L2239.1 1586.8 L2245.5 1596.6 L2252 1606.7 L2258.4 1616.9 L2264.8 1627.2 L2271.2 1637.5 L2277.7 1647.7 L2284.1 1657.7 L2290.5 1667.5"/>
</g>
<text class="t" x="1333.5" y="1771.3" text-anchor="middle">700</text>
<text class="t" x="1493" y="1771.3" text-anchor="middle">750</text>
<text class="t" x="1652.5" y="1771.3" text-anchor="middle">800</text>
<text class="t" x="1812" y="1771.3" text-anchor="middle">850</text>
<text class="t" x="1971.5" y="1771.3" text-anchor="middle">900</text>
<text class="t" x="2131" y="1771.3" text-anchor="middle">950</text>
<text class="t" x="2290.5" y="1771.3" text-anchor="middle">1000</text>
<text class="t" x="1316.6" y="1739.3" text-anchor="end">0</text>
<text class="t" x="1316.6" y="1585.1" text-anchor="end">20</text>
<text class="t" x="1316.6" y="1430.9" text-anchor="end">40</text>
<text class="t" x="1316.6" y="1276.7" text-anchor="end">60</text>
<text class="t" x="1316.6" y="1122.5" text-anchor="end">80</text>
<text class="t" x="1316.6" y="968.3" text-anchor="end">100</text>
<text class="a" x="1812.2" y="1833.2" text-anchor="middle">Wavelength, nm</text>
<text class="a" transform="translate(1218.4 1331.2) rotate(-90)" text-anchor="middle">Reflectance, %</text>
<rect x="1641.2" y="1320.7" width="208" height="105.4" fill="#000"/>
<rect x="1630.7" y="1310.2" width="207" height="104.4" fill="#fff" stroke="#333" stroke-width="1.2"/>
<path class="l s" d="M1636.4 1338.3 h88.9"/>
<path class="l p" d="M1636.4 1387.7 h88.9"/>
<text class="a" x="1736.4" y="1351.8">S Pol</text>
<text class="a" x="1736.4" y="1401.2">P Pol</text>
<text class="pl" x="2327.7" y="1834">d)</text>
</g>
</svg></body></html>
